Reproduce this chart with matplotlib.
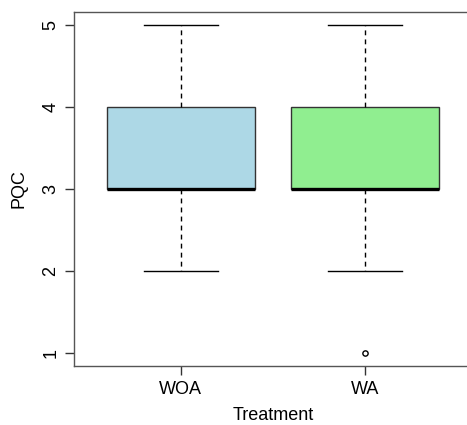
import matplotlib
matplotlib.use("Agg")
import matplotlib.pyplot as plt

plt.rcParams['font.family'] = ['Liberation Sans', 'DejaVu Sans']

categories = ["WOA", "WA"]
whisker_low = [2, 2]
q1 = [3, 3]
median = [3, 3]
q3 = [4, 4]
whisker_high = [5, 5]
outliers = [[], [1]]
colors = ["#ADD8E6", "#90EE90"]

stats = []
for i, c in enumerate(categories):
    stats.append(dict(label=c, whislo=whisker_low[i], q1=q1[i], med=median[i],
                      q3=q3[i], whishi=whisker_high[i], fliers=outliers[i]))

fig = plt.figure(figsize=(4.67, 4.25), dpi=100)
ax = fig.add_axes([74/467, 59/425, 398/467, 354/425])

bp = ax.bxp(stats, positions=[1, 2], widths=0.8, patch_artist=True,
            showfliers=True,
            boxprops=dict(edgecolor="#333333", linewidth=1.0),
            medianprops=dict(color="black", linewidth=2.4, solid_capstyle="butt"),
            whiskerprops=dict(color="black", linewidth=1.0, linestyle=(0, (3.5, 3))),
            capprops=dict(color="black", linewidth=1.0),
            flierprops=dict(marker="o", markerfacecolor="white", markeredgecolor="black",
                            markersize=3.8, markeredgewidth=1.0))
for b, col in zip(bp["boxes"], colors):
    b.set_facecolor(col)
for cap in bp["caps"]:
    x = cap.get_xdata()
    cx = (x[0] + x[1]) / 2
    cap.set_xdata([cx - 0.2, cx + 0.2])

ax.set_xlim(0.42, 2.58)
ax.set_ylim(0.84, 5.16)
ax.set_yticks([1, 2, 3, 4, 5])
ax.set_yticklabels(["1", "2", "3", "4", "5"], rotation=90, va="center", fontsize=13)
ax.set_xticks([1, 2])
ax.set_xticklabels(categories, fontsize=13)
ax.tick_params(axis="both", length=6.5, width=1.0, color="#333333", pad=4)
for s in ax.spines.values():
    s.set_color("#555555")
    s.set_linewidth(1.0)
ax.set_xlabel("Treatment", fontsize=13, labelpad=7)
ax.set_ylabel("PQC", fontsize=13, labelpad=11)

fig.savefig("out.png", dpi=100)
